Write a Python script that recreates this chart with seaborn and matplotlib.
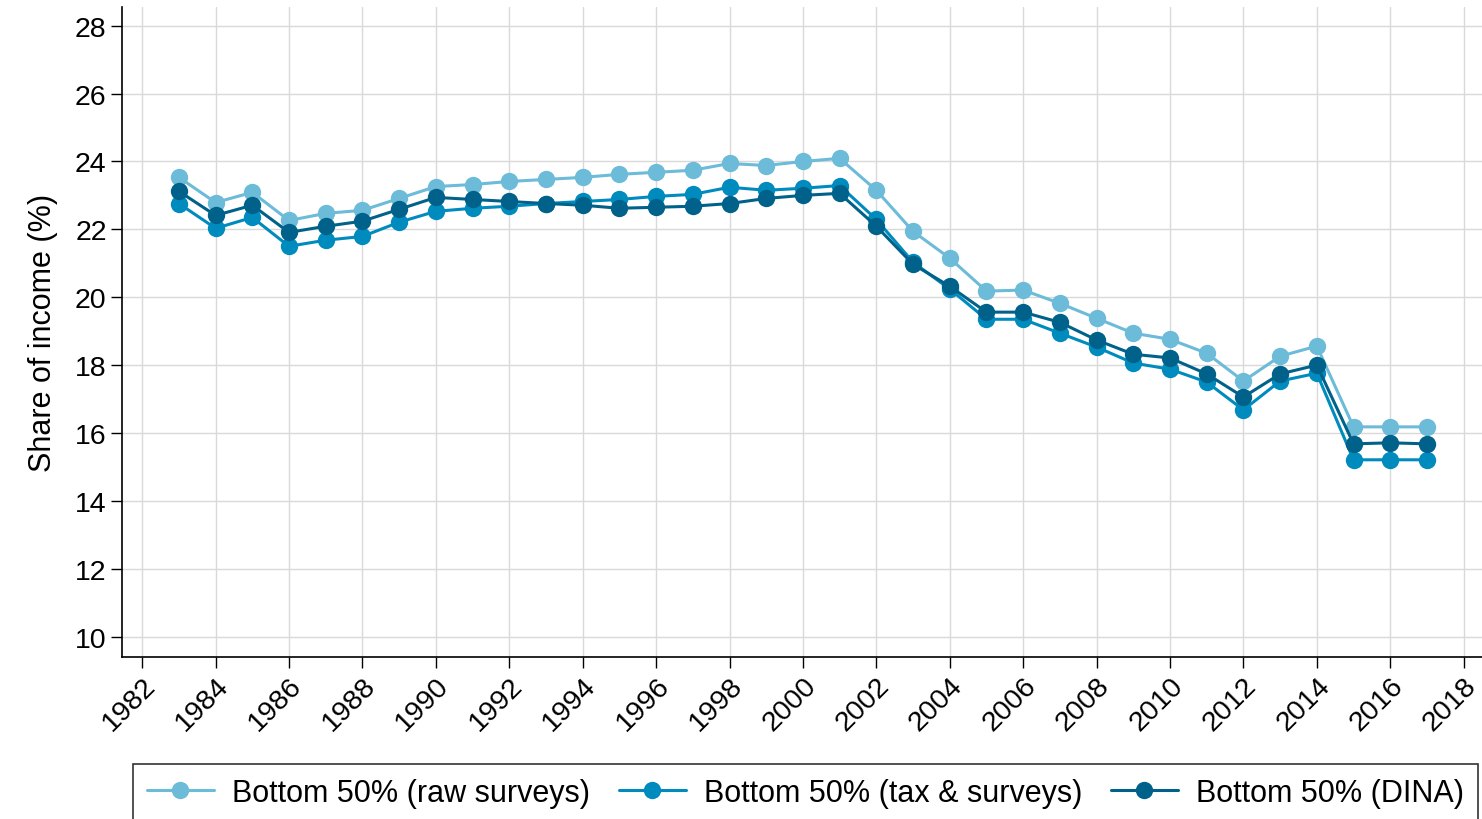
import matplotlib
matplotlib.use("Agg")
import matplotlib.pyplot as plt
import seaborn as sns
import pandas as pd

years = list(range(1983, 2018))
raw_surveys = [23.53, 22.79, 23.09, 22.26, 22.47, 22.56, 22.91, 23.26, 23.32, 23.41,
               23.47, 23.53, 23.62, 23.68, 23.74, 23.94, 23.88, 24.00, 24.09, 23.15,
               21.94, 21.15, 20.18, 20.21, 19.82, 19.38, 18.94, 18.76, 18.35, 17.53,
               18.26, 18.56, 16.18, 16.18, 16.18]
tax_surveys = [22.76, 22.03, 22.35, 21.50, 21.68, 21.79, 22.21, 22.53, 22.62, 22.68,
               22.76, 22.82, 22.88, 22.97, 23.03, 23.24, 23.15, 23.21, 23.29, 22.29,
               21.03, 20.24, 19.35, 19.35, 18.94, 18.53, 18.06, 17.88, 17.50, 16.68,
               17.53, 17.76, 15.21, 15.21, 15.21]
dina = [23.12, 22.41, 22.71, 21.91, 22.09, 22.24, 22.59, 22.94, 22.88, 22.82,
        22.76, 22.71, 22.62, 22.65, 22.68, 22.76, 22.91, 23.00, 23.06, 22.09,
        20.97, 20.32, 19.56, 19.56, 19.26, 18.74, 18.32, 18.21, 17.74, 17.06,
        17.74, 18.00, 15.68, 15.71, 15.68]
series_names = ["Bottom 50% (raw surveys)", "Bottom 50% (tax & surveys)", "Bottom 50% (DINA)"]
colors = ["#6bbbd9", "#008bbf", "#00628a"]
y_ticks = list(range(10, 30, 2))
x_ticks = list(range(1982, 2020, 2))

df = pd.concat([
    pd.DataFrame({"year": years, "value": vals, "series": name})
    for name, vals in zip(series_names, [raw_surveys, tax_surveys, dina])
])

sns.set_style("whitegrid")
plt.rcParams['font.family'] = ['Liberation Sans', 'DejaVu Sans']
plt.rcParams['text.color'] = 'black'
plt.rcParams['axes.labelcolor'] = 'black'
plt.rcParams['xtick.color'] = 'black'
plt.rcParams['ytick.color'] = 'black'

fig = plt.figure(figsize=(14.82, 8.2), dpi=100)
ax = fig.add_axes([122/1482, 1 - 658/820, (1482 - 122)/1482, (658 - 8)/820])

sns.lineplot(data=df, x="year", y="value", hue="series", hue_order=series_names,
             palette=colors, marker="o", markersize=12.5, markeredgewidth=0,
             linewidth=2.2, dashes=False, ax=ax)

ax.set_xlim(1981.45, 2018.5)
ax.set_ylim(9.4, 28.55)
ax.set_xticks(x_ticks)
ax.set_yticks(y_ticks)
ax.set_xticklabels([str(t) for t in x_ticks], rotation=45, ha="right", rotation_mode="anchor")
ax.tick_params(axis="both", labelsize=20.5, length=8, width=1, color="black", direction="out",
               left=True, bottom=True, pad=3, labelcolor="black")
ax.set_xlabel("")
ax.set_ylabel("Share of income (%)", fontsize=22, labelpad=12, color="black")
ax.grid(True, color="#d9d9d9", linewidth=1)
for s in ["top", "right"]:
    ax.spines[s].set_visible(False)
for s in ["left", "bottom"]:
    ax.spines[s].set_color("black")
    ax.spines[s].set_linewidth(1.2)

ax.get_legend().remove()
handles, labels = ax.get_legend_handles_labels()
leg = fig.legend(handles, labels, loc="upper left",
                 bbox_to_anchor=(133/1482, -0.1, (1478 - 133)/1482, 0.1 + (820 - 765)/820),
                 mode="expand", ncol=3, fontsize=22, frameon=True, fancybox=False,
                 edgecolor="black", borderpad=0.45, handlelength=2.2, handletextpad=0.6,
                 columnspacing=1.0, borderaxespad=0)
leg.get_frame().set_linewidth(1.2)
for t in leg.get_texts():
    t.set_color("black")

fig.savefig("out.png", dpi=100)
